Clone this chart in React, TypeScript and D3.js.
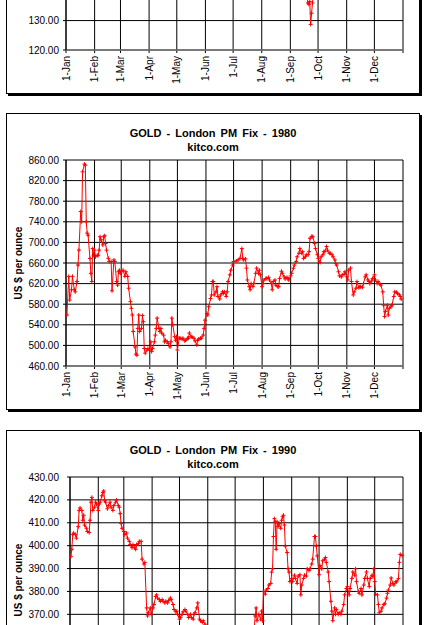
import React from "react";
import * as d3 from "d3";

// three yearly London PM fix charts stacked like on the page; the first one is cut off at the top
// days = day of the year (0 = 1 Jan), values in US $ per ounce

const days1975 = [2, 9, 16, 23, 30, 37, 44, 51, 58, 65,
    72, 79, 86, 93, 100, 107, 114, 121, 128, 135,
    142, 149, 156, 163, 170, 177, 184, 191, 198, 205,
    212, 219, 226, 233, 240, 247, 254, 258, 261, 262,
    263, 264, 265, 266, 267, 268, 272, 279, 286, 293,
    300, 307, 314, 321, 328, 335, 342, 349, 356, 363]
const gold1975 = [176, 178, 174, 180, 177, 182, 179, 181, 180, 178,
    177, 176, 172, 170, 168, 167, 169, 168, 167, 165,
    166, 164, 165, 166, 163, 165, 166, 164, 162, 160,
    159, 158, 160, 157, 152, 148, 144, 141, 139, 136,
    135.5, 136.5, 128.7, 132.5, 136, 139, 142, 143, 144, 142,
    143, 141, 142, 140, 141, 139, 139, 138, 139, 140]

const days1980 = [1, 3, 4, 6, 7, 9, 10, 12, 13, 14,
    16, 17, 18, 20, 21, 22, 23, 24, 26, 27,
    28, 29, 30, 31, 32, 34, 35, 36, 37, 38,
    40, 41, 42, 43, 44, 46, 47, 49, 50, 52,
    53, 55, 56, 57, 58, 59, 60, 62, 64, 65,
    67, 68, 70, 71, 72, 73, 75, 76, 77, 78,
    79, 80, 82, 83, 84, 85, 86, 88, 89, 91,
    92, 93, 94, 96, 97, 98, 99, 101, 102, 103,
    104, 106, 107, 108, 110, 111, 113, 114, 115, 116,
    118, 119, 120, 121, 123, 124, 126, 127, 129, 130,
    132, 133, 134, 136, 137, 139, 140, 142, 143, 144,
    146, 147, 149, 150, 151, 153, 154, 155, 157, 158,
    159, 160, 161, 163, 164, 165, 167, 168, 170, 171,
    172, 174, 175, 176, 178, 179, 181, 182,
    185, 187, 189, 191, 192, 193, 195, 196, 197, 199,
    200, 201, 203, 204, 206, 207, 209, 210, 211, 213,
    214, 215, 217, 218, 220, 221, 223, 224, 225, 227,
    228, 230, 231, 232, 234, 235, 237, 238, 240, 241,
    242, 244, 245, 247, 248, 250, 251, 253, 254, 256,
    257, 258, 260, 261, 263, 264, 265, 267, 268, 270,
    271, 273, 274, 276, 277, 279, 280, 281, 283, 284,
    286, 287, 289, 290, 292, 293, 294, 296, 297, 299,
    300, 302, 303, 305, 306, 307, 309, 310, 312, 313,
    315, 316, 318, 319, 320, 322, 323, 325, 326, 328,
    329, 330, 332, 333, 335, 336, 338, 339, 341, 342,
    344, 345, 346, 347, 349, 350, 351, 353, 354, 356,
    357, 359, 360, 362, 363, 364]
const gold1980 = [559, 634, 588, 608, 634, 608, 604, 624, 656, 685,
    760, 740, 837, 852, 850, 740, 718, 714, 669, 640,
    624, 688, 675, 685, 672, 675, 675, 685, 711, 705,
    695, 711, 713, 698, 685, 669, 663, 663, 606, 666,
    663, 624, 617, 643, 646, 640, 643, 646, 634, 643,
    634, 611, 585, 572, 559, 527, 497, 483, 481, 533,
    559, 527, 533, 558, 546, 494, 485, 491, 494, 491,
    507, 488, 494, 507, 520, 533, 553, 533, 527, 533,
    524, 520, 507, 510, 507, 504, 497, 507, 553, 540,
    517, 510, 517, 491, 514, 514, 512, 514, 509, 510,
    514, 514, 524, 517, 516, 514, 509, 501, 510, 512,
    514, 514, 520, 533, 549, 562, 559, 575, 591, 598,
    624, 624, 598, 604, 614, 595, 590, 598, 604, 601,
    604, 595, 604, 624, 637, 646, 656, 663,
    664, 666, 669, 688, 669, 666, 668, 650, 627, 614,
    608, 620, 614, 620, 640, 650, 640, 646, 637, 614,
    620, 627, 630, 630, 632, 627, 620, 608, 624, 627,
    617, 614, 614, 630, 644, 640, 633, 629, 632, 630,
    627, 635, 640, 650, 656, 663, 672, 679, 688, 679,
    682, 669, 672, 676, 676, 682, 708, 712, 711, 698,
    688, 676, 669, 661, 672, 676, 682, 682, 692, 685,
    679, 679, 676, 672, 666, 659, 656, 643, 635, 633,
    637, 638, 643, 633, 627, 646, 650, 624, 598, 604,
    611, 624, 612, 614, 614, 613, 620, 633, 637, 627,
    624, 620, 625, 630, 637, 627, 620, 624, 619, 617,
    604, 578, 556, 566, 578, 559, 572, 575, 578, 595,
    604, 603, 601, 598, 595, 590]

const days1990 = [1, 2, 3, 4, 6, 7, 9, 10, 11, 13,
    14, 15, 16, 18, 19, 21, 22, 23, 24, 25,
    27, 28, 29, 31, 32, 33, 35, 36, 37, 38,
    39, 41, 42, 44, 45, 47, 48, 50, 51, 53,
    54, 55, 56, 57, 59, 60, 62, 63, 65, 66,
    68, 69, 71, 72, 73, 75, 76, 78, 79, 81,
    82, 84, 85, 86, 88, 89, 91, 92, 94, 95,
    96, 98, 99, 101, 102, 104, 105, 107, 108, 110,
    111, 113, 114, 116, 117, 118, 120, 121, 123, 124,
    126, 127, 129, 130, 132, 133, 135, 136, 137, 139,
    140, 142, 143, 145, 146, 148, 150,
    152, 155, 158, 161, 164, 167, 170, 173, 176, 179,
    182, 185, 188, 191, 194, 197, 200, 202,
    203, 204, 205, 207, 209, 210, 211, 212, 214, 215,
    217, 218, 220, 221, 222, 223, 224, 225, 226, 227,
    228, 229, 231, 232, 233, 234, 235, 236, 238, 239,
    240, 241, 243, 244, 246, 247, 249, 250, 252, 253,
    254, 256, 257, 259, 260, 262, 263, 265, 266, 268,
    269, 270, 271, 273, 274, 276, 277, 279, 280, 281,
    283, 284, 286, 287, 288, 290, 291, 292, 294, 295,
    297, 298, 300, 301, 303, 304, 306, 307, 309, 310,
    312, 313, 314, 316, 317, 319, 320, 322, 323, 325,
    326, 328, 329, 331, 332, 333, 334, 335, 337, 338,
    339, 341, 342, 344, 345, 347, 348, 349, 351, 352,
    354, 355, 357, 358, 360, 361, 362, 364]
const gold1990 = [395.2, 398.4, 404.8, 405.5, 404.8, 403.3, 408.3, 415.4, 416.5, 415.4,
    411.1, 413.3, 409, 407.6, 406.2, 405.7, 411.1, 419, 421.1, 415.4,
    416.8, 419, 418.2, 415.4, 418.2, 419, 421.8, 423.2, 423.9, 419.6,
    419, 416.1, 417.5, 419, 416.8, 415.4, 417.5, 419, 419.9, 417.5,
    416.8, 414, 409.7, 407.6, 406.2, 404.8, 405.5, 403.3, 401.9, 400.5,
    399.1, 400.5, 399.1, 398.4, 400.5, 400.9, 401.9, 401.9, 394.1, 392,
    392.7, 372.8, 369.3, 370.7, 372.8, 370, 372.8, 374.3, 377.8, 378.5,
    377.1, 376.4, 375.7, 376.4, 375.7, 375, 375.7, 375, 376, 377.1,
    376.4, 374.3, 372.1, 371.1, 371.4, 370, 367.9, 368.6, 370, 371.1,
    372.1, 371.4, 370, 368.6, 370, 368.6, 367.9, 370, 370.7, 372.8,
    375, 367.9, 367.2, 366.5, 367.2, 365.7, 364.3,
    362, 358, 356, 352, 350, 348, 352, 350, 353, 354,
    357, 360, 362, 360, 358, 356, 360, 364,
    369.3, 372.8, 367.2, 370, 367.9, 371.4, 367.2, 380, 378.8, 380.6,
    381.3, 382.8, 383.5, 388.4, 389.9, 404, 411.8, 410.4, 398.4, 410.4,
    408.3, 409.7, 407.6, 411.1, 412.6, 413.3, 409, 399.8, 397, 389.9,
    388.5, 384.3, 385.7, 384.3, 387.1, 385.7, 383.5, 386.7, 387.3, 378.5,
    382.8, 385.7, 387.1, 386.7, 389.9, 389.1, 389.9, 392, 394.1, 404,
    404, 399.8, 395.5, 387.3, 391.3, 389.9, 393.4, 394.1, 394.8, 392.7,
    388.5, 384.3, 375.7, 371.4, 367.2, 372.8, 370, 372.1, 370, 370.7,
    370, 371.4, 374.3, 378.5, 381.3, 382.1, 378.5, 381.3, 385.7, 388.5,
    387.1, 389.9, 384.3, 380, 379.2, 381.3, 378.5, 382.8, 385.7, 388.5,
    385.7, 382.1, 385.7, 387.1, 386.4, 389.9, 384.3, 378.8, 378.5, 374.3,
    370.7, 371.4, 372.8, 374.3, 374.6, 377.1, 379.2, 380.6, 382.8, 385.9,
    383.5, 382.8, 384.2, 384.2, 385.6, 392.7, 396.2, 395.7]

const yTicks1975 = [120, 130, 140, 150, 160, 170, 180, 190]
const yTicks1980 = [460, 500, 540, 580, 620, 660, 700, 740, 780, 820, 860]
const yTicks1990 = [340, 350, 360, 370, 380, 390, 400, 410, 420, 430]

const FONT = "'Liberation Sans', Arial, Helvetica, sans-serif"
const PAGE_H = 625

// texts that fall completely outside the page are not drawn at all
const inView = (a: number, b: number) => b > 0 && a < PAGE_H

type PanelProps = {
    top: number
    left: number
    year: number
    days: number[]
    values: number[]
    ticks: number[]
}

const Panel = ({top, left, year, days, values, ticks}: PanelProps) => {
    const right = 403
    const plotTop = top + 47
    const plotBottom = top + 253
    const midY = (plotTop + plotBottom) / 2
    const start = new Date(year, 0, 1)
    const end = new Date(year + 1, 0, 1)

    const x = d3.scaleTime().domain([start, end]).range([left, right])
    const y = d3.scaleLinear()
        .domain([ticks[0], ticks[ticks.length - 1]])
        .range([plotBottom, plotTop])

    const months = d3.timeMonth.range(start, end)
    const fmtMonth = d3.timeFormat("%-d-%b")
    const fmtVal = d3.format(".2f")

    const pts: [number, number][] = days.map((d, i) => [x(d3.timeDay.offset(start, d)), y(values[i])])
    const line = d3.line()(pts) || ""
    const marks = pts.map(([px, py]) => `M${px - 2},${py}h4M${px},${py - 2}v4`).join("")

    return (
        <g>
            {/* frame with the little excel shadow */}
            <rect x={8} y={top + 2} width={414} height={297} fill="#000"/>
            <rect x={6.5} y={top + 0.5} width={413} height={296} fill="#fff" stroke="#000"/>

            {inView(top + 14, top + 40) && <>
                <text x={213} y={top + 23.5} textAnchor="middle" fontFamily={FONT} fontSize={11}
                      fontWeight="bold" wordSpacing={2}>{`GOLD - London PM Fix - ${year}`}</text>
                <text x={213} y={top + 38} textAnchor="middle" fontFamily={FONT} fontSize={11}
                      fontWeight="bold">kitco.com</text>
            </>}

            {/* grid */}
            {ticks.map(t => (
                <g key={"h" + t}>
                    <line x1={left - 3} x2={right} y1={y(t)} y2={y(t)} stroke="#000"/>
                    {inView(y(t) - 5, y(t) + 5) &&
                        <text x={59} y={y(t)} textAnchor="end" dominantBaseline="central"
                              fontFamily={FONT} fontSize={10}>{fmtVal(t)}</text>}
                </g>
            ))}
            {[...months, end].map(m => (
                <line key={"v" + m.getTime()} x1={x(m)} x2={x(m)} y1={plotTop} y2={plotBottom + 3}
                      stroke="#000"/>
            ))}
            <line x1={left} x2={right} y1={plotBottom} y2={plotBottom} stroke="#777" strokeWidth={1.5}/>
            <line x1={left} x2={left} y1={plotTop} y2={plotBottom} stroke="#000"/>

            {inView(plotBottom + 6, plotBottom + 36) && months.map(m => (
                <text key={"l" + m.getTime()} transform={`translate(${x(m)},${plotBottom + 6}) rotate(-90)`}
                      textAnchor="end" dominantBaseline="central" fontFamily={FONT}
                      fontSize={10}>{fmtMonth(m)}</text>
            ))}

            {inView(midY - 40, midY + 40) &&
                <text transform={`translate(22,${midY}) rotate(-90)`} textAnchor="middle"
                      fontFamily={FONT} fontSize={10} fontWeight="bold">US $ per ounce</text>}

            <path d={line} fill="none" stroke="#ff0000" strokeWidth={1}/>
            <path d={marks} fill="none" stroke="#ff0000" strokeWidth={1}/>
        </g>
    )
}

const App = () => {
    return (
        <svg width={441} height={PAGE_H} viewBox={`0 0 441 ${PAGE_H}`}
             style={{position: "absolute", left: 0, top: 0, background: "#fff"}}>
            <Panel top={-203} left={66} year={1975} days={days1975} values={gold1975} ticks={yTicks1975}/>
            <Panel top={113} left={66} year={1980} days={days1980} values={gold1980} ticks={yTicks1980}/>
            <Panel top={430} left={70} year={1990} days={days1990} values={gold1990} ticks={yTicks1990}/>
        </svg>
    )
}

export default App
